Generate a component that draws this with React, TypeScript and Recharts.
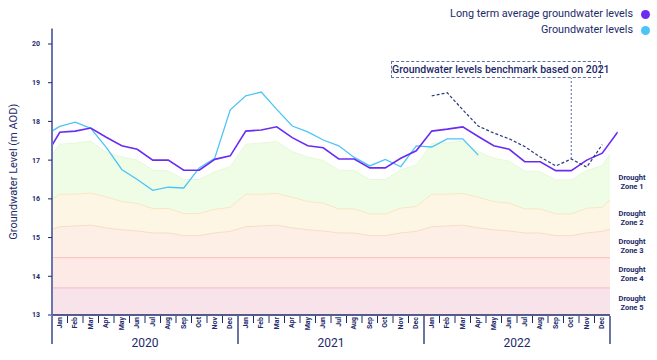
import React from 'react';
import { ComposedChart, Area, Line, XAxis, YAxis, ReferenceLine } from 'recharts';

const MONTHS = ['Jan', 'Feb', 'Mar', 'Apr', 'May', 'Jun', 'Jul', 'Aug', 'Sep', 'Oct', 'Nov', 'Dec'];
const YEARS = ['2020', '2021', '2022'];
const Y_TICKS = [13, 14, 15, 16, 17, 18, 19, 20];

// Jan 2020 .. Dec 2022
const LONG_TERM_AVG = [
    17.72, 17.75, 17.83, 17.59, 17.37, 17.28, 17.0, 17.0, 16.74, 16.74, 17.02, 17.11,
    17.75, 17.78, 17.86, 17.58, 17.37, 17.32, 17.03, 17.03, 16.8, 16.8, 17.05, 17.24,
    17.75, 17.8, 17.86, 17.61, 17.37, 17.28, 16.96, 16.96, 16.73, 16.73, 17.0, 17.18,
];
const LONG_TERM_START = 17.38; // where the line meets the y axis
const LONG_TERM_JAN_2023 = 17.73;

// Jan 2020 .. Apr 2022
const GROUNDWATER = [
    17.87, 17.98, 17.82, 17.33, 16.76, 16.5, 16.22, 16.3, 16.28, 16.8, 17.05, 18.3,
    18.66, 18.76, 18.31, 17.88, 17.73, 17.52, 17.37, 17.07, 16.85, 17.02, 16.83, 17.37,
    17.34, 17.55, 17.55, 17.13,
];
const GROUNDWATER_START = 17.75;

// benchmark for 2022, based on 2021
const BENCHMARK_2022 = [18.66, 18.74, 18.3, 17.88, 17.7, 17.55, 17.35, 17.08, 16.85, 17.03, 16.82, 17.4];

// drought zone upper limits, Jan 2020 .. Dec 2022, plus the values at both plot edges
const ZONE1_TOP = [
    17.41, 17.44, 17.49, 17.2, 17.08, 17.0, 16.74, 16.72, 16.5, 16.5, 16.7, 16.83,
    17.41, 17.44, 17.48, 17.22, 17.08, 16.99, 16.74, 16.73, 16.5, 16.5, 16.75, 16.87,
    17.43, 17.45, 17.49, 17.22, 17.05, 16.97, 16.72, 16.7, 16.49, 16.49, 16.73, 16.86,
];
const ZONE1_EDGES = [17.13, 17.15];
const ZONE2_TOP = [
    16.12, 16.12, 16.15, 16.05, 15.93, 15.88, 15.75, 15.75, 15.62, 15.62, 15.73, 15.78,
    16.12, 16.12, 16.14, 16.04, 15.93, 15.89, 15.74, 15.74, 15.61, 15.61, 15.76, 15.8,
    16.12, 16.12, 16.14, 16.04, 15.93, 15.89, 15.74, 15.74, 15.61, 15.61, 15.76, 15.78,
];
const ZONE2_EDGES = [15.99, 15.97];
const ZONE3_TOP = [
    15.28, 15.3, 15.32, 15.25, 15.2, 15.17, 15.12, 15.12, 15.05, 15.05, 15.12, 15.16,
    15.28, 15.3, 15.32, 15.25, 15.2, 15.17, 15.12, 15.12, 15.05, 15.05, 15.12, 15.16,
    15.28, 15.3, 15.32, 15.25, 15.2, 15.17, 15.12, 15.12, 15.05, 15.05, 15.12, 15.16,
];
const ZONE3_EDGES = [15.22, 15.22];
const ZONE4_TOP = 14.48;
const ZONE5_TOP = 13.7;

const ZONE_LABELS = ['Zone 1', 'Zone 2', 'Zone 3', 'Zone 4', 'Zone 5'];

const NAVY = '#1c2a6b';
const AXIS_BLUE = '#6b76b0';
const PURPLE = '#6b2cf2';
const CYAN = '#4cc4f8';

type Row = {
    t: number;
    lta?: number;
    gw?: number;
    bench?: number;
    z1?: number;
    z2?: number;
    z3?: number;
    z4?: number;
    z5?: number;
};

const rows: Row[] = [];
rows.push({
    t: 0, lta: LONG_TERM_START, gw: GROUNDWATER_START,
    z1: ZONE1_EDGES[0], z2: ZONE2_EDGES[0], z3: ZONE3_EDGES[0], z4: ZONE4_TOP, z5: ZONE5_TOP,
});
LONG_TERM_AVG.forEach((v, i) => {
    rows.push({
        t: i + 0.5,
        lta: v,
        gw: GROUNDWATER[i],
        bench: i >= 24 ? BENCHMARK_2022[i - 24] : undefined,
        z1: ZONE1_TOP[i], z2: ZONE2_TOP[i], z3: ZONE3_TOP[i], z4: ZONE4_TOP, z5: ZONE5_TOP,
    });
});
rows.push({ t: 36, z1: ZONE1_EDGES[1], z2: ZONE2_EDGES[1], z3: ZONE3_EDGES[1], z4: ZONE4_TOP, z5: ZONE5_TOP });
rows.push({ t: 36.5, lta: LONG_TERM_JAN_2023 });

const monthEdges = Array.from({ length: 37 }, (_, i) => i);
const monthCenters = Array.from({ length: 36 }, (_, i) => i + 0.5);
const yearCenters = YEARS.map((_, i) => i * 12 + 6);

// short tick between months, long divider between years
const EdgeTick = (props: any) => {
    const { x, y, payload } = props;
    const v = payload.value;
    const yearEdge = v % 12 === 0;
    return (
        <line
            x1={x}
            x2={x}
            y1={y}
            y2={y + (yearEdge ? 28 : 7)}
            stroke={v === 0 ? AXIS_BLUE : NAVY}
            strokeWidth={v === 0 ? 2 : yearEdge ? 1.3 : 1}
        />
    );
};

const MonthTick = (props: any) => {
    const { x, y, payload } = props;
    const name = MONTHS[Math.floor(payload.value) % 12];
    return (
        <text
            x={x}
            y={y}
            transform={`rotate(-90, ${x}, ${y})`}
            textAnchor="end"
            dominantBaseline="central"
            fontSize={7}
            fontWeight={700}
            fill={NAVY}
        >
            {name}
        </text>
    );
};

const YearTick = (props: any) => {
    const { x, y, payload } = props;
    const name = YEARS[Math.floor(payload.value / 12)];
    return (
        <text x={x} y={y} textAnchor="middle" dominantBaseline="central" fontSize={12} fill={NAVY}>
            {name}
        </text>
    );
};

const YLabel = (props: any) => {
    const vb = props.viewBox || { x: 12, y: 28.5, width: 40, height: 286.5 };
    const cx = vb.x + vb.width - 39;
    const cy = vb.y + vb.height / 2;
    return (
        <text x={cx} y={cy} transform={`rotate(-90, ${cx}, ${cy})`} textAnchor="middle" dominantBaseline="central" fontSize={11} fill={NAVY}>
            Groundwater Level (m AOD)
        </text>
    );
};

const legendItems = [
    { label: 'Long term average groundwater levels', color: PURPLE },
    { label: 'Groundwater levels', color: CYAN },
];

// label positions next to each zone band
const zoneLabelTops = [173, 208.5, 236.5, 264.5, 293.5];

export default function App() {
    return (
        <div style={{ position: 'absolute', left: 0, top: 0, width: 657, height: 360, fontFamily: 'Roboto, sans-serif', background: '#fff' }}>
            <ComposedChart width={657} height={360} data={rows} margin={{ top: 28.5, right: 39.25, bottom: 42, left: 12 }}>
                <XAxis xAxisId="m" dataKey="t" type="number" domain={[0, 36.5]} allowDataOverflow
                    ticks={monthEdges} interval={0} height={1} axisLine={false} tickLine={false}
                    tickSize={0} tickMargin={0} tick={<EdgeTick />} />
                <XAxis xAxisId="lbl" dataKey="t" type="number" domain={[0, 36.5]} allowDataOverflow
                    ticks={monthCenters} interval={0} height={1} axisLine={false} tickLine={false}
                    tickSize={0} tickMargin={2} tick={<MonthTick />} />
                <XAxis xAxisId="yl" dataKey="t" type="number" domain={[0, 36.5]} allowDataOverflow
                    ticks={yearCenters} interval={0} height={1} axisLine={false} tickLine={false}
                    tickSize={0} tickMargin={26} tick={<YearTick />} />
                <YAxis type="number" domain={[13, 20.4]} allowDataOverflow ticks={Y_TICKS} interval={0} width={40}
                    axisLine={{ stroke: AXIS_BLUE, strokeWidth: 2 }} tickLine={{ stroke: NAVY }} tickSize={4} tickMargin={8}
                    tick={{ fontSize: 7, fontWeight: 700, fill: NAVY }} label={<YLabel />} />

                <Area xAxisId="m" type="linear" dataKey="z1" fill="#effde7" fillOpacity={1} stroke="#e6f8d9" strokeWidth={1} dot={false} activeDot={false} isAnimationActive={false} />
                <Area xAxisId="m" type="linear" dataKey="z2" fill="#fef6e4" fillOpacity={1} stroke="#f8e6c2" strokeWidth={1} dot={false} activeDot={false} isAnimationActive={false} />
                <Area xAxisId="m" type="linear" dataKey="z3" fill="#fdefe6" fillOpacity={1} stroke="#f8dcc8" strokeWidth={1} dot={false} activeDot={false} isAnimationActive={false} />
                <Area xAxisId="m" type="linear" dataKey="z4" fill="#fdeae7" fillOpacity={1} stroke="#f6c9c5" strokeWidth={1.2} dot={false} activeDot={false} isAnimationActive={false} />
                <Area xAxisId="m" type="linear" dataKey="z5" fill="#f8e3ea" fillOpacity={1} stroke="#f4c4cc" strokeWidth={1.2} dot={false} activeDot={false} isAnimationActive={false} />

                <Line xAxisId="m" type="linear" dataKey="gw" stroke={CYAN} strokeWidth={1.3} dot={false} activeDot={false} isAnimationActive={false} />
                <Line xAxisId="m" type="linear" dataKey="lta" stroke={PURPLE} strokeWidth={1.6} dot={false} activeDot={false} connectNulls isAnimationActive={false} />
                <Line xAxisId="m" type="linear" dataKey="bench" stroke="#2b3a7e" strokeWidth={1.2} strokeDasharray="3 2" dot={false} activeDot={false} isAnimationActive={false} />

                <ReferenceLine xAxisId="m" segment={[{ x: 0, y: 13 }, { x: 36, y: 13 }]} stroke={NAVY} strokeWidth={1.5} />
                <ReferenceLine xAxisId="m" segment={[{ x: 33.5, y: BENCHMARK_2022[9] }, { x: 33.5, y: 19.12 }]} stroke="#5a66a6" strokeWidth={1} strokeDasharray="2 2" />
            </ComposedChart>

            {legendItems.map((item, i) => (
                <div key={item.label} style={{ position: 'absolute', right: 7, top: 7 + i * 16, display: 'flex', alignItems: 'center', gap: 8, fontSize: 10.8, lineHeight: '14px', color: NAVY }}>
                    <span>{item.label}</span>
                    <span style={{ width: 9, height: 9, borderRadius: '50%', background: item.color, display: 'inline-block' }} />
                </div>
            ))}

            <div style={{ position: 'absolute', left: 391, top: 61, width: 208, height: 15, border: '1px dashed #6470a8', fontSize: 10.5, fontWeight: 500, lineHeight: '15px', textAlign: 'center', color: NAVY, whiteSpace: 'nowrap' }}>
                Groundwater levels benchmark based on 2021
            </div>

            {ZONE_LABELS.map((z, i) => (
                <div key={z} style={{ position: 'absolute', left: 612, top: zoneLabelTops[i], width: 40, textAlign: 'center', fontSize: 7.5, fontWeight: 700, lineHeight: '9px', color: NAVY }}>
                    Drought<br />{z}
                </div>
            ))}
        </div>
    );
}
